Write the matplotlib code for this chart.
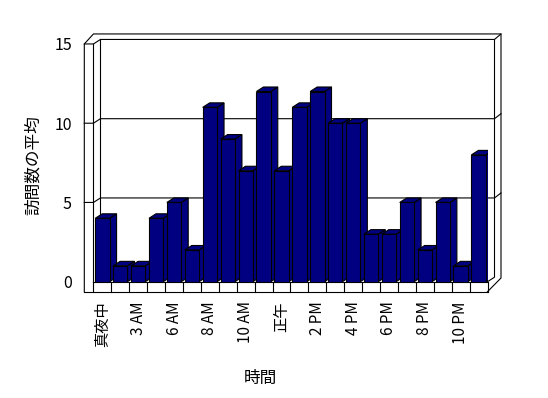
import matplotlib
matplotlib.use("Agg")
from matplotlib import pyplot as plt

plt.rcParams['font.family'] = ['Noto Sans CJK JP', 'DejaVu Sans']

# average visits per hour (hours 1 AM / 4 AM are not in the data)
values = [4, 1, 1, 4, 5, 2, 11, 9, 7, 12, 7, 11, 12, 10, 10, 3, 3, 5, 2, 5, 1, 8]
tick_pos = [0, 2, 4, 6, 8, 10, 12, 14, 16, 18, 20]
tick_labels = ['真夜中', '3 AM', '6 AM', '8 AM', '10 AM', '正午',
               '2 PM', '4 PM', '6 PM', '8 PM', '10 PM']
y_ticks = [0, 5, 10, 15]
grid_vals = [5, 10]

navy = '#000080'
lw = 0.8

fig = plt.figure(figsize=(5.48, 3.98), dpi=100)
# front plane of the 3d box: x 93.5..487.5 px, y 44..281.7 px
ax = fig.add_axes([93.45 / 548, (398 - 281.7) / 398, 394.05 / 548, 237.75 / 398])
x0, x1 = -0.5, len(values) - 0.5
y0, y1 = 0, 15
ax.set_xlim(x0, x1)
ax.set_ylim(y0, y1)
for s in ax.spines.values():
    s.set_visible(False)

# size of one pixel in data units
ux = (x1 - x0) / 394.05
uy = (y1 - y0) / 237.75

# depth offset of bars and back wall, wall thickness
BX, BY = 7 * ux, 4.5 * uy
OX, OY = 13.5 * ux, 10 * uy
x_wl = x0 - 9.15 * ux
y_fb = y0 - 10 * uy


def line(xs, ys, z=1):
    ax.plot(xs, ys, color='black', lw=lw, clip_on=False, zorder=z,
            solid_joinstyle='miter')


# walls
line([x_wl, x_wl, x0, x0 + BX, x1 + BX, x1 + BX, x1], [y_fb, y1, y1, y1 + BY, y1 + BY, BY, y0])
line([x_wl, x0, x1 + OX, x1 + OX, x1], [y1, y1 + OY, y1 + OY, 3.7 * uy, y_fb])
line([x1 + BX, x1 + OX], [y1 + BY, y1 + OY])
line([x0, x0], [y0, y1])
line([x0 + BX, x0 + BX], [BY, y1 + BY], z=0.5)

# floor strip
line([x_wl, x1], [y_fb, y_fb])
line([x0, x1], [y0, y0])
for k in range(len(values) + 1):
    line([x0 + k, x0 + k], [y_fb, y0])

# gridlines wrapping round the walls
for v in grid_vals:
    line([x_wl, x0, x0 + BX, x1 + BX, x1 + OX],
         [v, v, v + BY, v + BY, v + BY + 5 * uy], z=0.5)

# 3d bars
w = 0.8
for i, h in enumerate(values):
    z = 2 + i * 0.01
    ax.bar(i, h, width=w, color=navy, edgecolor='black', linewidth=lw, zorder=z + 0.002)
    r = i + w / 2
    l = i - w / 2
    ax.fill([r, r + BX, r + BX, r], [0, BY, h + BY, h],
            facecolor=navy, edgecolor='black', linewidth=lw, zorder=z)
    ax.fill([l, r, r + BX, l + BX], [h, h, h + BY, h + BY],
            facecolor=navy, edgecolor='black', linewidth=lw, zorder=z + 0.001)

ax.set_yticks(y_ticks, [str(t) for t in y_ticks], fontsize=11.5)
ax.tick_params(axis='y', length=0, pad=15.5)
ax.set_xticks(tick_pos, tick_labels, rotation=90, fontsize=11)
ax.tick_params(axis='x', length=0, pad=14)

ax.set_xlabel('時間', fontsize=12)
ax.xaxis.set_label_coords((260 - 93.45) / 394.05, (281.7 - 370) / 237.75)
ax.set_ylabel('訪問数の平均', fontsize=12)
ax.yaxis.set_label_coords((42 - 93.45) / 394.05, (281.7 - 165) / 237.75)

fig.savefig('out.png', dpi=100)
